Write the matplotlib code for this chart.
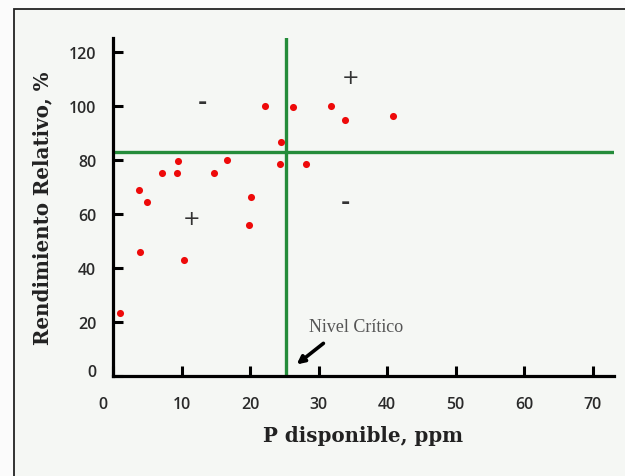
import matplotlib
matplotlib.use('Agg')
from matplotlib import pyplot as plt
from matplotlib.patches import Rectangle
from matplotlib.transforms import ScaledTranslation

# datos
p_disp = [1.0, 3.8, 4.9, 3.9, 7.1, 9.5, 9.3, 10.3, 14.8, 16.7,
          20.1, 19.9, 22.2, 24.5, 24.4, 26.3, 28.1, 31.8, 33.9, 40.9]
rend_rel = [23.3, 68.9, 64.6, 46.0, 75.4, 79.8, 75.4, 43.0, 75.4, 80.2,
            66.3, 55.9, 100.2, 86.8, 78.6, 99.6, 78.6, 100.2, 94.8, 96.4]

nivel_critico = 25.2
rend_critico = 83.1

xticks = [0, 10, 20, 30, 40, 50, 60, 70]
yticks = [0, 20, 40, 60, 80, 100, 120]

signos = ['-', '+', '+', '-']
signos_x = [13.0, 34.7, 11.5, 33.9]
signos_y = [101.7, 111.0, 58.8, 64.4]

fig = plt.figure(figsize=(6.25, 4.77), dpi=100, facecolor='#fbfbfb')

# marco de fondo
fig.patches.append(Rectangle((14 / 625, -0.02), 1.0, 1 - 10 / 477 + 0.02,
                             transform=fig.transFigure, facecolor='#f5f7f4',
                             edgecolor='#222222', lw=1.3, zorder=-5))

ax = fig.add_axes([113 / 625, 99.7 / 477, 501 / 625, 338.3 / 477])
ax.patch.set_visible(False)

ax.scatter(p_disp, rend_rel, s=26, color='#ee0a0a', zorder=3, linewidths=0)

ax.axvline(nivel_critico, color='#248c3a', lw=2.4, zorder=2)
ax.axhline(rend_critico, color='#248c3a', lw=2.4, zorder=2)

for s, x, y in zip(signos, signos_x, signos_y):
    ax.text(x, y, s, fontsize=15 if s == '+' else 16, color='#333333',
            ha='center', va='center', fontweight='bold' if s == '-' else 'normal')

ax.text(35.5, 18.4, 'Nivel Crítico', family='Liberation Serif', fontsize=13,
        color='#555555', ha='center', va='center')
ax.annotate('', xy=(26.8, 4.4), xytext=(30.7, 12.2),
            arrowprops=dict(arrowstyle='-|>', lw=2.6, color='black',
                            mutation_scale=11, shrinkA=0, shrinkB=0))

ax.set_xlim(0, 73.1)
ax.set_ylim(0, 125.3)
ax.set_xticks(xticks)
ax.set_yticks(yticks)

for side in ['top', 'right']:
    ax.spines[side].set_visible(False)
for side in ['left', 'bottom']:
    ax.spines[side].set_linewidth(2.3)
    ax.spines[side].set_color('black')

ax.tick_params(direction='in', length=7, width=2.2, colors='black',
               labelcolor='#2a2a2a', labelsize=11.5, pad=12)
ax.tick_params(axis='x', pad=14)
for lbl in ax.get_xticklabels() + ax.get_yticklabels():
    lbl.set_family('Open Sans')
    lbl.set_fontweight('semibold')

ax.set_xlabel('P disponible, ppm', family='DejaVu Serif', fontweight='bold',
              fontsize=14.3, color='#222222')
ax.set_ylabel('Rendimiento Relativo, %', family='DejaVu Serif',
              fontweight='bold', fontsize=14.3, color='#222222')
ax.xaxis.set_label_coords(0.5, -0.145)
ax.yaxis.set_label_coords(-0.122, 0.5)

# las etiquetas "0" estan corridas en el original
xl = ax.get_xticklabels()[0]
xl.set_transform(xl.get_transform() + ScaledTranslation(-0.10, 0, fig.dpi_scale_trans))
yl = ax.get_yticklabels()[0]
yl.set_transform(yl.get_transform() + ScaledTranslation(0, 0.06, fig.dpi_scale_trans))

plt.savefig('out.png', dpi=100, facecolor=fig.get_facecolor())
